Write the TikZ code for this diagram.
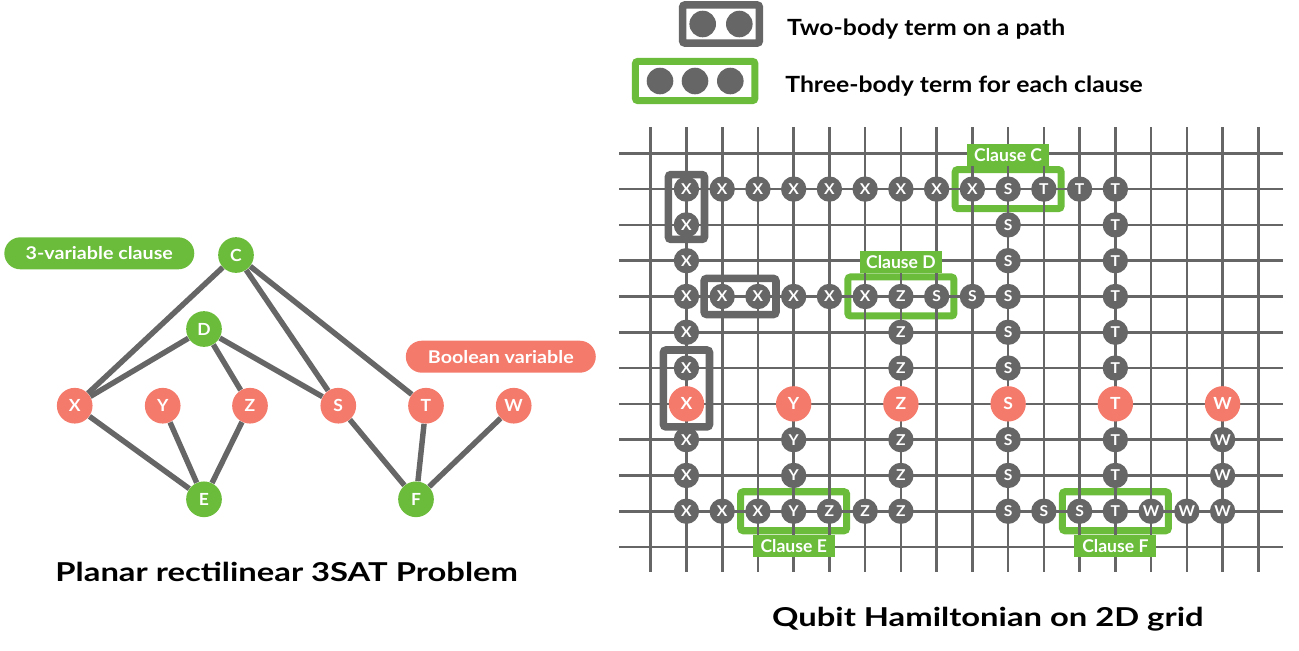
\documentclass[tikz,border=0pt]{standalone}
\usepackage{fontspec}
\setmainfont{Lato}
\usetikzlibrary{positioning}
\usetikzlibrary{fit}
\usetikzlibrary{shapes.misc}

\definecolor{wiregray}{HTML}{666666}
\definecolor{clausegreen}{HTML}{6ABC3A}
\definecolor{varsalmon}{HTML}{F47A6B}

% wide bold text at a given size and stretch
\newcommand{\widebold}[2]{\bfseries\fontsize{#1}{#1}\selectfont\addfontfeatures{FakeStretch=#2}}

\begin{document}
\begin{tikzpicture}[x = 0.02cm, y = -0.02cm,
                    wire/.style = {draw = wiregray, line width = 1.5pt},
                    edge/.style = {draw = wiregray, line width = 3.1pt},
                    dot/.style = {circle, fill = wiregray, inner sep = 0pt, minimum size = 0.532cm},
                    qubit/.style = {circle, fill = wiregray, text = white, inner sep = 0pt,
                                    minimum size = 0.508cm, font = {\widebold{8.5}{1.05}}},
                    varqubit/.style = {circle, fill = varsalmon, text = white, inner sep = 0pt,
                                       minimum size = 0.708cm, font = {\widebold{9.5}{1.05}}},
                    varnode/.style = {varqubit, minimum size = 0.714cm},
                    clausenode/.style = {varnode, fill = clausegreen},
                    twobody/.style = {draw = wiregray, line width = 4.3pt, rounded corners = 1.5pt, inner sep = 0.1cm},
                    threebody/.style = {draw = clausegreen, line width = 4pt, rounded corners = 1.5pt, inner sep = 0pt,
                                        minimum width = 2.12cm, minimum height = 0.78cm},
                    clauselabel/.style = {fill = clausegreen, text = white, inner sep = 0pt, minimum width = 1.64cm,
                                          minimum height = 0.44cm, font = {\widebold{10}{1.0}}},
                    pill/.style = {rounded rectangle, text = white, inner sep = 0pt, minimum width = 3.8cm,
                                   minimum height = 0.64cm, font = {\widebold{10}{1.12}}},
                    keytext/.style = {inner sep = 0pt, anchor = base west, font = {\widebold{12.7}{1.11}}},
                    title/.style = {inner sep = 0pt, anchor = base, font = {\widebold{14.8}{1.26}}}]
    \useasboundingbox (0,0) rectangle (1299,650);

    % Draw the 3SAT instance: variables in a row, clauses above and below
    \foreach \name/\x in {X/74.7, Y/162.7, Z/250, S/338.3, T/426, W/513.7}
        \node [varnode] (\name) at (\x,405.7) {\name};
    \node [clausenode] (C) at (236,255) {C};
    \node [clausenode] (D) at (204,329) {D};
    \node [clausenode] (E) at (204,499.3) {E};
    \node [clausenode] (F) at (416,499.3) {F};
    \foreach \from/\to in {C/X, C/S, C/T, D/X, D/Z, D/S, E/X, E/Y, E/Z, F/S, F/T, F/W}
        \draw [edge] (\from) -- (\to);

    \node [pill, fill = clausegreen] (clause-key) at (99.3,253.3) {3-variable clause};
    \node [pill, fill = varsalmon] (variable-key) at (500.8,356.7) {Boolean variable};
    \node [title] (graph-title) at (286.7,581.7) {Planar rectilinear 3SAT Problem};

    % Draw the legend:
    \node [dot] (key-a1) at (702.7,24) {};
    \node [dot] (key-a2) at (739.3,24) {};
    \node [twobody, inner xsep = 0.13cm, inner ysep = 0.11cm, fit = (key-a1)(key-a2)] (key-pair) {};
    \foreach \i/\x in {1/660, 2/695, 3/730.3}
        \node [dot] (key-b\i) at (\x,81) {};
    \node [threebody, minimum width = 0pt, minimum height = 0pt, inner xsep = 0.22cm, inner ysep = 0.12cm,
           fit = (key-b1)(key-b3)] (key-triple) {};
    \node [keytext] (key-pair-text) at (786.7,35) {Two-body term on a path};
    \node [keytext] (key-triple-text) at (785,92) {Three-body term for each clause};

    % Draw the qubit grid:
    \begin{scope}[shift = {(650.7,153.3)}, x = 0.715cm, y = -0.716cm]
        % clause boxes sit under the wires
        \foreach \name/\col/\row in {C/10/1, D/7/4, E/4/10, F/13/10}
            \node [threebody] (box-\name) at (\col,\row) {};

        \foreach \row in {0,...,11}
            \draw [wire] (-0.887,\row) -- (17.70,\row);
        \foreach \col in {0,...,17}
            \draw [wire] (\col,-0.726) -- (\col,11.69);

        % Paths of copies, one per variable
        \foreach \col/\row/\lab in {1/1/X, 2/1/X, 3/1/X, 4/1/X, 5/1/X, 6/1/X, 7/1/X, 8/1/X, 9/1/X,
                                    10/1/S, 11/1/T, 12/1/T, 13/1/T,
                                    1/2/X, 1/3/X, 1/4/X, 1/5/X, 1/6/X, 1/8/X, 1/9/X, 1/10/X,
                                    2/4/X, 3/4/X, 4/4/X, 5/4/X, 6/4/X, 7/4/Z, 8/4/S, 9/4/S,
                                    2/10/X, 3/10/X, 4/8/Y, 4/9/Y, 4/10/Y, 5/10/Z, 6/10/Z,
                                    7/5/Z, 7/6/Z, 7/8/Z, 7/9/Z, 7/10/Z,
                                    10/2/S, 10/3/S, 10/4/S, 10/5/S, 10/6/S, 10/8/S, 10/9/S, 10/10/S,
                                    11/10/S, 12/10/S,
                                    13/2/T, 13/3/T, 13/4/T, 13/5/T, 13/6/T, 13/8/T, 13/9/T, 13/10/T,
                                    14/10/W, 15/10/W, 16/8/W, 16/9/W, 16/10/W}
            \node [qubit] (q-\col-\row) at (\col,\row) {\lab};
        \foreach \col/\lab in {1/X, 4/Y, 7/Z, 10/S, 13/T, 16/W}
            \node [varqubit] (v-\lab) at (\col,7) {\lab};

        \node [twobody, inner ysep = 0.03cm, fit = (q-1-1)(q-1-2)] (pair-a) {};
        \node [twobody, fit = (q-2-4)(q-3-4)] (pair-b) {};
        \node [twobody, fit = (q-1-6)(v-X)] (pair-c) {};

        \foreach \name/\side in {C/above, D/above, E/below, F/below}
            \node [clauselabel, \side = 0pt of box-\name] (label-\name) {Clause \name};
    \end{scope}
    \node [title] (grid-title) at (987.8,626) {Qubit Hamiltonian on 2D grid};
\end{tikzpicture}
\end{document}
